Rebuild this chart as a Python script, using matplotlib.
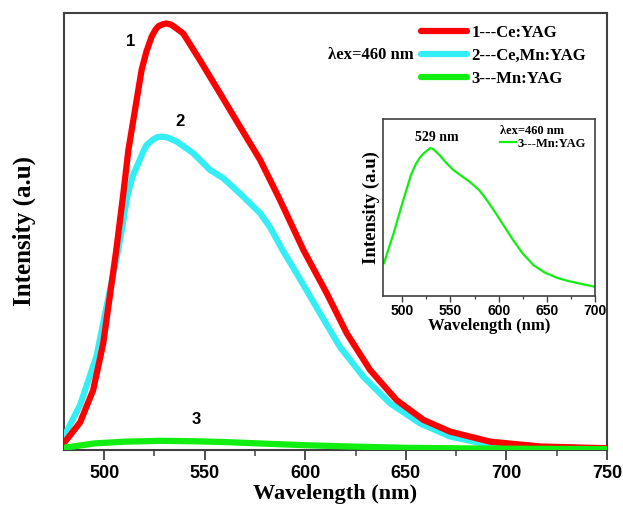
import matplotlib
matplotlib.use("Agg")
import matplotlib.pyplot as plt
from matplotlib.ticker import MultipleLocator

# ===== data =====
ce_wl = [480, 488, 494.5, 499.5, 503, 506, 509.5, 512, 515.3, 518.6, 521, 523.6, 525.5, 527, 529,
         530.7, 533, 535, 539.3, 547.6, 557.6, 567.5, 577.5, 587.4, 599, 610.6, 620.6, 632.2,
         645.4, 658.7, 672, 692, 717, 750]
ce_int = [0.016, 0.063, 0.137, 0.244, 0.359, 0.458, 0.587, 0.686, 0.778, 0.870, 0.912, 0.946, 0.962,
          0.970, 0.974, 0.976, 0.974, 0.968, 0.953, 0.892, 0.816, 0.740, 0.664, 0.572, 0.458,
          0.359, 0.267, 0.183, 0.114, 0.069, 0.042, 0.019, 0.008, 0.004]

cemn_wl = [480, 488, 496.2, 501.2, 506.2, 509, 511.2, 514, 517.5, 519.5, 521.1, 524.5, 526.5,
           528.6, 530.5, 532, 536, 544.3, 552.6, 559.2, 567.5, 577.5, 582.4, 589, 595.7, 607.3,
           617.2, 628.8, 642.1, 657, 672, 692, 720, 750]
cemn_int = [0.030, 0.103, 0.215, 0.330, 0.440, 0.510, 0.575, 0.625, 0.662, 0.684, 0.698, 0.711,
            0.716, 0.717, 0.716, 0.714, 0.706, 0.679, 0.641, 0.622, 0.587, 0.542, 0.510, 0.455,
            0.404, 0.313, 0.236, 0.168, 0.107, 0.061, 0.031, 0.011, 0.004, 0.002]

mn_wl = [480, 495, 510, 528, 545, 561, 577, 600, 622, 650, 672, 700, 750]
mn_int = [0.005, 0.015, 0.019, 0.021, 0.020, 0.018, 0.015, 0.011, 0.008, 0.005, 0.004, 0.003, 0.002]

# inset: Mn:YAG alone
mn_in_wl = [481, 491, 500, 509, 514, 518, 522, 527, 529, 532, 538, 546, 553, 561, 570, 580, 588,
            597, 606, 615, 625, 636, 648, 661, 672, 682, 700]
mn_in_int = [0.185, 0.354, 0.523, 0.683, 0.745, 0.780, 0.805, 0.827, 0.836, 0.830, 0.800, 0.750,
             0.712, 0.680, 0.645, 0.597, 0.540, 0.468, 0.392, 0.316, 0.240, 0.175, 0.132, 0.102,
             0.085, 0.073, 0.052]

labels = ["1---Ce:YAG", "2---Ce,Mn:YAG", "3---Mn:YAG"]
colors = ["#ff0000", "#33eef5", "#11ee11"]

SERIF = "Liberation Serif"
SANS = "Liberation Sans"
SPINE = "#404040"

fig = plt.figure(figsize=(6.23, 5.15), dpi=100)
ax = fig.add_axes([64 / 623, 65 / 515, 543 / 623, 437 / 515])

line_kw = dict(lw=4.5, solid_joinstyle="round", solid_capstyle="round")
ax.plot(ce_wl, ce_int, color=colors[0], label=labels[0], zorder=4, **line_kw)
ax.plot(cemn_wl, cemn_int, color=colors[1], label=labels[1], zorder=3, **line_kw)
ax.plot(mn_wl, mn_int, color=colors[2], label=labels[2], zorder=5, **line_kw)

ax.set_xlim(480, 750)
ax.set_ylim(0, 1.0)
ax.set_yticks([])
ax.xaxis.set_major_locator(MultipleLocator(50))
ax.xaxis.set_minor_locator(MultipleLocator(25))
ax.tick_params(axis="x", which="major", length=7, width=1.3, color=SPINE, direction="out")
ax.tick_params(axis="x", which="minor", length=4, width=1.1, color=SPINE, direction="out")
for lab in ax.get_xticklabels():
    lab.set_fontfamily(SANS)
    lab.set_fontweight("bold")
    lab.set_fontsize(13)
for s in ax.spines.values():
    s.set_color(SPINE)
    s.set_linewidth(1.5)

ax.set_xlabel("Wavelength (nm)", fontfamily=SERIF, fontweight="bold", fontsize=16, labelpad=2)
ax.set_ylabel("Intensity (a.u)", fontfamily=SERIF, fontweight="bold", fontsize=18, labelpad=20)

ax.text(513.3, 0.934, "1", fontfamily=SANS, fontweight="bold", fontsize=12, ha="center", va="center")
ax.text(537.7, 0.751, "2", fontfamily=SANS, fontweight="bold", fontsize=12, ha="center", va="center")
ax.text(546, 0.069, "3", fontfamily=SANS, fontweight="bold", fontsize=12, ha="center", va="center")

ax.legend(loc="upper left", bbox_to_anchor=(0.658, 0.972), frameon=False,
          prop={"family": SERIF, "weight": "bold", "size": 12},
          handlelength=2.75, handletextpad=0.25, labelspacing=0.4,
          borderpad=0, borderaxespad=0)
ax.text(0.643, 0.903, "λex=460 nm", transform=ax.transAxes, fontfamily=SERIF,
        fontweight="bold", fontsize=12, ha="right", va="center")

# ===== inset =====
ins = fig.add_axes([383 / 623, 219 / 515, 212 / 623, 177 / 515])
ins.plot(mn_in_wl, mn_in_int, color=colors[2], lw=1.6, label=labels[2], solid_joinstyle="round")
ins.set_xlim(480, 700)
ins.set_ylim(0, 1.0)
ins.set_yticks([])
ins.xaxis.set_major_locator(MultipleLocator(50))
ins.xaxis.set_minor_locator(MultipleLocator(25))
ins.tick_params(axis="x", which="major", length=4, width=1.0, color=SPINE, pad=2)
ins.tick_params(axis="x", which="minor", length=2.5, width=0.9, color=SPINE)
for lab in ins.get_xticklabels():
    lab.set_fontfamily(SANS)
    lab.set_fontweight("bold")
    lab.set_fontsize(10)
for s in ins.spines.values():
    s.set_color(SPINE)
    s.set_linewidth(1.2)
ins.set_xlabel("Wavelength (nm)", fontfamily=SERIF, fontweight="bold", fontsize=12, labelpad=0)
ins.set_ylabel("Intensity (a.u)", fontfamily=SERIF, fontweight="bold", fontsize=13.5, labelpad=2)

ins.text(536, 0.893, "529 nm", fontfamily=SERIF, fontweight="bold", fontsize=10, ha="center", va="center")
ins.text(0.552, 0.934, "λex=460 nm", transform=ins.transAxes, fontfamily=SERIF,
         fontweight="bold", fontsize=9, ha="left", va="center")
ins.legend(loc="upper left", bbox_to_anchor=(0.55, 0.895), frameon=False,
           prop={"family": SERIF, "weight": "bold", "size": 9},
           handlelength=1.3, handletextpad=0.1, borderpad=0, borderaxespad=0)

fig.savefig("out.png", dpi=100)
plt.close(fig)
